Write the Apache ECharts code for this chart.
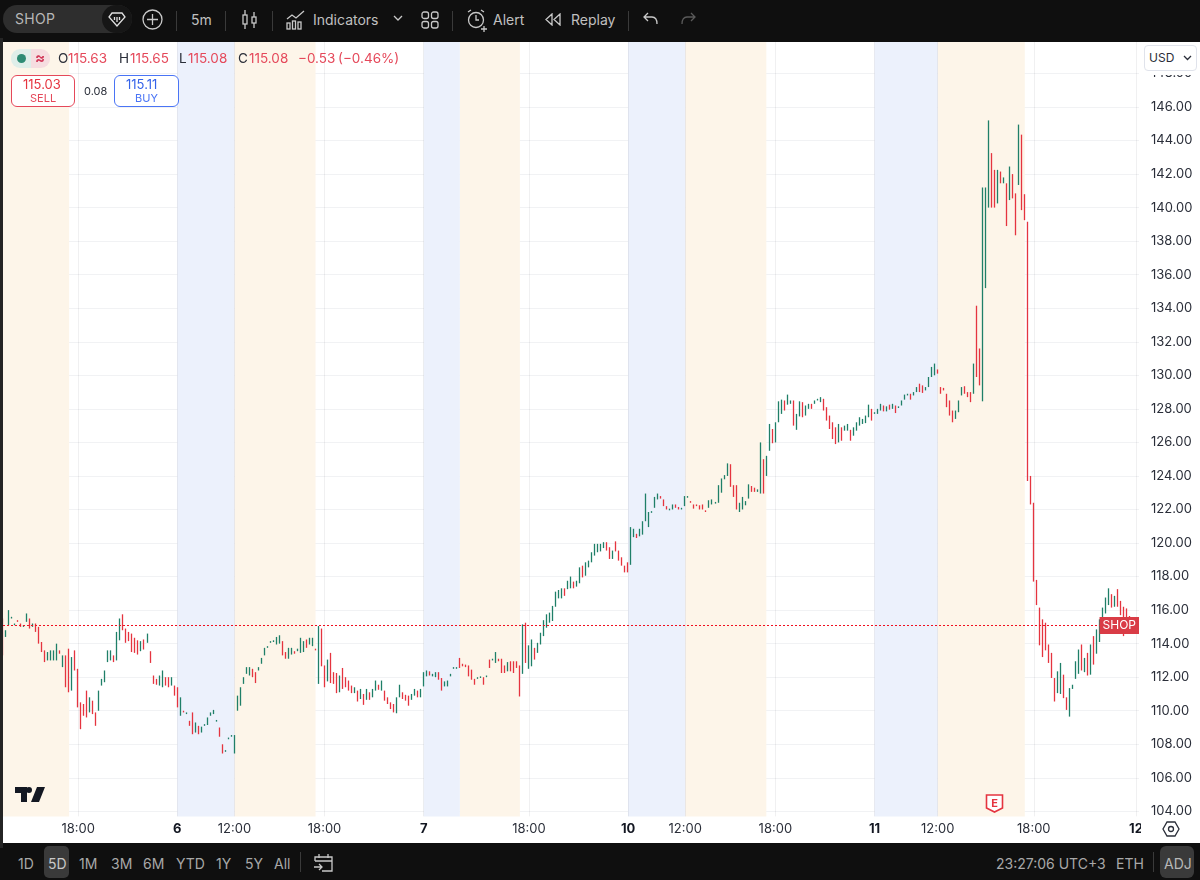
<!DOCTYPE html>
<html>
<head>
<meta charset="utf-8">
<title>SHOP 5m</title>
<script src="https://cdn.jsdelivr.net/npm/echarts@6/dist/echarts.min.js"></script>
<style>
html, body { margin: 0; padding: 0; background: #fff; font-family: Inter, "Noto Sans", sans-serif; }
#chart { position: absolute; left: 0; top: 0; width: 1200px; height: 880px; }
.bar { position: absolute; left: 0; width: 1200px; background: #0f0f0f; }
.t { position: absolute; white-space: nowrap; line-height: 1; }
.ico { position: absolute; fill: none; stroke: #c9c9c9; stroke-width: 1.3; }
</style>
</head>
<body>
<div id="chart"></div>
<div class="bar" style="top:0;height:42px"></div>
<div class="bar" style="top:843px;height:37px"></div>
<div style="position:absolute;left:0;top:38px;width:3px;height:810px;background:#242424"></div>
<div id="ui"></div>
<script>
// bars are [open, close, low, high]
var day5Bars = [
	[114.9,114.3,113.3,115.5],[114.5,114.7,114.4,114.8],[115.3,115.9,115.1,116],[115.5,115.6,115.5,115.6],[115.1,115.2,115.1,115.2],
	[115.4,115.3,115.3,115.4],[115.2,115.1,115,115.2],[115.05,115.1,115,115.1],[115.4,115.7,115.3,115.8],[115.4,114.95,114.9,115.5],
	[115,115.1,115,115.2],[115.1,114.8,114.7,115.2],[114.9,114.1,114,115],[114,113.6,113.5,114.1],[113.5,113,112.9,113.6],
	[113.1,113.3,113,113.5],[113.2,113.5,113,113.6],[113.2,113.5,113,113.6],[113.3,113.9,113,114],[113.6,113.5,113.4,113.6],
	[112.8,113.2,112.6,113.3],[113.2,112,111.4,113.3],[113.4,111.6,111.1,113.7],[111.6,113,111.2,113.2],[113.5,112.6,112.4,113.6],
	[112.4,110.4,110.2,112.5],[110.3,109.4,108.9,110.5],[110.4,109.8,109.7,110.4],[111.2,109.8,109.6,111.2],[110.2,110.6,109.9,110.8],
	[110.5,110,109.8,110.6],[109.8,109.3,109.1,109.9],[110.1,111,110,111.2],[111.6,111.8,111.5,111.9],[111.8,112.4,111.7,112.4],
	[113,113.6,112.9,113.6],[113.2,113.5,113,113.6],[113.3,113,112.9,113.3],[113.1,114.6,113,114.7],[114.4,115.5,114.2,115.5],
	[115.75,114.9,114.8,115.75],[114.9,114.1,114.05,114.9],[114.6,114.2,114.15,114.7],[114.6,113.5,113.5,114.6],[114.3,113.7,113.45,114.35],
	[113.9,113.5,113.35,114.2],[113.7,114.1,113.55,114.15],[114.15,113.8,113.65,114.25],[114.1,114.5,114.05,114.6],[113.5,113,112.85,113.55],
	[112.1,111.7,111.6,112.1],[111.9,111.6,111.55,111.9],[111.6,111.95,111.5,112.1],[111.7,112.3,111.4,112.4],[112,111.7,111.5,112],
	[112,111.6,111.4,112],[111.65,112,111.5,112],[111.4,111,110.9,111.5]
];
var day6Bars = [
	[111.35,110.3,110.2,111.4],[109.8,110.7,109.7,110.8],[110,109.95,109.9,110],[109.85,109.9,109.8,109.9],[109.4,109.15,109.1,109.4],
	[109.85,108.7,108.6,109.9],[108.8,109.3,108.7,109.3],[109,108.7,108.6,109.1],[108.8,109,108.7,109.05],[109.15,109.2,109.1,109.2],
	[109.2,109.6,109.15,109.6],[109.75,109.9,109.7,109.9],[109.85,110,109.8,110.05],[109.4,109.45,109.35,109.45],[108.95,108.5,108.45,109],
	[108,107.45,107.45,108],[107.6,107.65,107.55,107.65],[108.35,108.4,108.3,108.4],[108.5,108.55,108.45,108.55],[107.5,108.55,107.45,108.55],
	[110,110.75,110,110.9],[110.3,111.4,110.3,111.4],[111.7,112,111.6,112],[112.2,112.5,112.2,112.6],[112.15,112.55,112.1,112.6],
	[112.5,112.1,112,112.5],[112.2,111.7,111.65,112.3],[112.4,112.6,112.4,112.6],[112.85,113.1,112.8,113.15],[113.3,113.75,113.3,113.75],
	[113.8,113.85,113.75,113.85],[114.1,114.15,114.05,114.15],[114.15,114.2,114.1,114.2],[114,114.4,113.95,114.4],[114.05,114.5,114,114.5],
	[114.15,113.3,113.3,114.15],[113.35,113.2,113.1,113.5],[113.2,113.6,113.1,113.75],[113.4,113.6,113.35,113.75],[113.5,113.45,113.4,113.55],
	[113.6,113.65,113.55,113.7],[113.5,113.95,113.45,114.35],[113.55,114.1,113.5,114.15],[114.2,113.8,113.75,114.25],[114,114.35,113.95,114.35],
	[113.9,114.3,113.85,114.35],[113.7,113.65,113.6,113.7],[111.9,115.05,111.6,115.05],[114.85,113,112.65,114.9],[112.7,111.4,111.4,112.7],
	[111.8,113,111.75,113.05],[113.45,111.8,111.65,113.45],[112.27,111.7,111.6,112.3],[112.1,111.1,111.05,112.25],[111.2,112,111.1,112.1],
	[112.5,111.6,111.3,112.55],[111.9,111.5,111.4,112],[111.8,111.3,111.2,111.8],[111.4,111.1,111.05,111.5],[111.1,111.35,111.05,111.4],
	[111.1,110.6,110.55,111.2],[110.8,111.2,110.7,111.3],[111,110.4,110.35,111],[110.7,111.2,110.65,111.3],[111,110.8,110.65,111.1],
	[110.8,111.2,110.8,111.3],[111.3,111.7,111.2,111.8],[111.5,111.3,111.25,111.55],[111.3,111.75,111.2,111.8],[111.2,110.7,110.6,111.2],
	[110.8,110.5,110.4,110.8],[110.5,110.2,110.1,110.5],[110.3,110,109.9,110.4],[109.95,110.7,109.85,110.8],[110.8,111.5,110.8,111.55],
	[111.05,110.75,110.7,111.1],[110.95,110.6,110.6,110.95],[110.8,110.35,110.3,110.9],[110.7,110.95,110.65,111],[110.9,111.25,110.9,111.3],
	[111.15,110.85,110.8,111.2],[110.85,111.3,110.8,111.3]
];
var day7Bars = [
	[111.5,112.2,111.45,112.3],[112.1,112.3,112.05,112.4],[112.3,112.15,112.1,112.35],[112.1,112.2,112.05,112.2],[112.05,112.25,112,112.3],
	[112.25,111.9,111.85,112.3],[111.9,111.3,111.2,111.95],[111.5,111.7,111.45,111.75],[111.5,111.75,111.45,111.8],[112.1,112.2,112.05,112.2],
	[112.5,112.55,112.5,112.6],[112.55,112.6,112.5,112.6],[113.15,112.6,112.55,113.15],[112.75,112.7,112.65,112.8],[112.7,112.65,112.6,112.75],
	[112.7,112.1,112.05,112.7],[112.3,111.9,111.85,112.45],[111.85,111.6,111.55,111.9],[111.95,112,111.9,112],[112,112.05,111.95,112.05],
	[112,111.6,111.55,112],[112,112.1,112,112.1],[113.05,112.6,112.55,113.05],[113.05,113.1,113,113.1],[112.9,113.5,112.85,113.5],
	[113.05,113,112.95,113.1],[113.05,112.3,112.25,113.1],[112.65,112.3,112.25,112.7],[112.4,112.85,112.35,112.9],[112.85,112.4,112.35,112.95],
	[112.9,112.3,112.25,112.95],[112.9,112.6,112.55,112.95],[112.7,110.9,110.85,112.7],[112.3,115.05,112.2,115.15],[115.25,112.9,112.85,115.25],
	[112.55,113.85,112.5,113.9],[112.7,114.2,112.65,114.25],[113.7,113.05,113.05,113.75],[113.45,114.05,113.45,114.05],[114,114.65,113.95,114.65],
	[114.5,115.35,114.45,115.4],[114.95,115.7,114.95,115.75],[115.3,115.8,115.25,115.85],[115.35,116.2,115.35,116.25],[116.25,117,116.2,117.1],
	[116.8,117,116.7,117.2],[116.75,117.25,116.7,117.3],[117.25,116.9,116.85,117.3],[117.3,117.75,117.25,117.75],[117.35,117.95,117.3,118],
	[117.7,117.4,117.3,117.7],[117.45,117.7,117.4,117.75],[117.7,118.5,117.6,118.55],[118.5,118,117.95,118.65],[118.1,118.6,118.05,118.85],
	[118.6,118.9,118.55,118.95],[118.9,119.4,118.85,119.45],[119.4,119.9,119.25,119.95],[119.45,119.95,119.45,119.95],[119.55,119.9,119.5,119.95],
	[119.75,120,119.7,120.05],[120.05,119.6,119.55,120.05],[119.7,119.1,119.05,119.75],[119.1,119.5,119.05,119.55],[120.1,119.55,119.5,120.1],
	[119.55,119,118.95,119.55],[119.1,118.7,118.65,119.15],[118.65,118.3,118.25,118.65]
];
var day10Bars = [
	[118.8,118.3,118.25,118.85],[118.75,120.95,118.7,120.95],[120.35,120.85,120.35,120.85],[120.5,120.35,120.3,120.55],[120.45,120.8,120.4,120.85],
	[120.5,121.3,120.5,121.3],[121.3,122.9,121.3,122.95],[121,121.8,120.95,121.85],[121.85,121.9,121.8,121.9],[122.15,122.7,122.1,122.75],
	[122.65,122.9,122.6,122.95],[122.75,122.7,122.65,122.8],[122.55,122.25,122.2,122.6],[122.2,122,122,122.2],[122,122.05,121.95,122.05],
	[122,122.3,122,122.3],[122.25,122.1,122.1,122.3],[122.15,122,122,122.15],[122.05,122.1,122,122.1],[122.2,122.7,122.2,122.8],
	[122.75,122.8,122.7,122.8],[122.5,122.45,122.4,122.5],[122.25,122.05,122.05,122.3],[122.3,122.25,122.2,122.3],[122.2,122,122,122.25],
	[122.3,122,122,122.3],[121.95,121.9,121.85,121.95],[122.1,122.5,122.1,122.55],[122.3,122.55,122.3,122.6],[122.4,122.45,122.35,122.45],
	[122.45,123.4,122.4,123.45],[123.1,123.75,123,123.85],[123.8,124.05,123.8,124.05],[124.05,124.7,124,124.75],[124.7,123.35,123.35,124.7],
	[123.4,122.75,122.75,123.45],[123.4,122,122,123.45],[121.85,122.35,121.85,122.4],[122.05,122.7,122,122.75],[122.25,122.5,122.25,122.5],
	[122.65,123.45,122.65,123.5],[123.35,123.05,123.05,123.4],[123.3,123.05,123.05,123.3],[123.1,123.2,123.05,123.2],[122.95,126,122.95,126],
	[125,122.95,122.95,125],[124,125.2,124,125.2],[125.5,127.1,125.5,127.1],[126.75,125.95,125.95,126.8],[126,127.2,126,127.2],
	[127.2,128.45,127.2,128.45],[127.7,128.5,127.7,128.55],[128.45,127.9,127.9,128.5],[128.25,128.85,128.25,128.85],[128.35,128.5,128.3,128.5],
	[128.5,127,127,128.5],[126.75,127.7,126.75,127.7],[127.55,128.45,127.55,128.45],[128.4,127.5,127.5,128.4],[127.6,128.2,127.6,128.2],
	[128,128.3,128,128.3],[128.3,128,128,128.3],[128.3,128.5,128.3,128.5],[128.5,128.6,128.5,128.6],[128.4,128.7,128.4,128.7],
	[128.6,127.9,127.9,128.6],[128.1,127.3,127.3,128.1],[127.6,126.8,126.8,127.6],[127.2,126.2,126.2,127.2],[126.9,125.9,125.9,126.9],
	[126,127.1,126,127.1],[126.8,126.1,126.1,126.9],[126.7,127,126.7,127],[126.7,127.1,126.7,127.1],[126.7,126.1,126.1,126.75],
	[126.4,126.9,126.4,126.9],[126.7,127.2,126.7,127.2],[127.2,127.5,127,127.5],[127.15,127.4,127.1,127.4],[127.15,127.6,127.15,127.6],
	[127.5,128.25,127.5,128.25],[128,127.3,127.3,128]
];
var day11Bars = [
	[127.7,127.8,127.7,127.8],[127.7,128,127.7,128],[127.9,128.3,127.9,128.3],[128.1,127.85,127.85,128.2],[127.85,128.1,127.85,128.15],
	[128.2,127.95,127.95,128.25],[128,128.25,128,128.3],[128.2,127.75,127.75,128.2],[128.1,128.15,128.05,128.15],[128.2,128.5,128.2,128.5],
	[128.55,128.85,128.55,128.85],[128.85,128.9,128.8,128.9],[128.9,128.55,128.55,128.9],[128.8,129,128.8,129],[129,129.3,129,129.3],
	[129.5,129,129,129.5],[129.4,129,128.95,129.4],[129.15,129.3,129.1,129.3],[129.3,129.9,129.3,129.9],[129.9,130.5,129.9,130.5],
	[130.1,130.7,130,130.7],[130.3,130.15,130.1,130.35],[129.25,128.9,128.9,129.3],[129.2,129.15,129.1,129.25],[128.9,128.1,128.1,128.9],
	[128.5,127.8,127.6,128.5],[127.9,127.4,127.2,127.9],[127.5,127.9,127.4,127.9],[127.8,128.5,127.8,128.5],[128.85,129.3,128.8,129.3],
	[129.3,128.9,128.9,129.35],[128.95,128.75,128.7,129],[129,128.4,128.4,129],[128.9,130.7,128.9,130.7],[134.1,130,129.9,134.15],
	[131.6,129.4,129.4,131.6],[128.5,141.15,128.45,141.2],[135.2,141.15,135.2,141.2],[140.05,141.2,140,145.2],[141.3,140.1,140,143.25],
	[142.2,140.1,140,142.25],[140.3,141.8,140.25,142.25],[142.1,141.5,141.45,142.15],[141.5,141.75,141.45,141.8],[141.45,139,138.9,141.45],
	[140.5,142.4,140.45,142.45],[141.95,140.6,140.55,142],[140.85,138.4,138.35,140.85],[141.4,144.95,141.35,144.95],[144.35,139.9,139.85,144.35],
	[140.75,139.25,139.25,140.8],[139.1,123.95,123.7,139.15],[123.95,122.3,122.3,124],[122.4,117.7,117.7,122.4],[117.8,116.3,116.3,117.8],
	[116.1,113.95,113.9,116.15],[115.4,113.25,113.2,115.45],[115.2,113.65,113.6,115.25],[113.9,112.85,112.85,113.95],[113.4,111.95,111.95,113.45],
	[111.95,110.55,110.55,111.95],[111.05,112.3,111.05,112.35],[111,112.85,111,112.85],[112.15,110.75,110.75,112.15],[110.75,110.05,110.05,110.8],
	[109.65,111.35,109.65,111.35],[111.35,111.55,111.3,111.55],[111.95,112.9,111.9,112.95],[112.25,113.6,112.2,113.65],[113.9,112.45,112.4,113.95],
	[112.35,113.1,112.3,113.15],[113.4,112.15,112.1,113.45],[112.15,113.9,112.15,113.95],[114.4,112.75,112.75,114.45],[113.45,114.8,113.4,114.85],
	[114.15,115.4,114.1,115.45],[115.4,116.1,115.4,116.15],[115.85,116.7,115.8,116.75],[116.3,117.25,116.3,117.3],[116.9,116.2,116.15,116.95],
	[116.25,116.8,116.2,116.85],[117.2,116.2,116.2,117.25],[116.5,115.7,115.7,116.55],[115.75,114.6,114.45,116.2],[115.95,115.35,115.3,116.1],
	[115.63,115.08,115.08,115.65]
];
var timeLabels = ['18:00','6','12:00','18:00','7','18:00','10','12:00','18:00','11','12:00','18:00','12'];
var timeIndex = [25,58,77,107,140,175,208,227,257,290,311,343,377];
var boldLabels = ['6','7','10','11','12'];
var preMarket = [[58,77],[140,152],[208,227],[290,311]];
var afterHours = [[0,22],[77,104],[152,172],[227,254],[311,340]];
var lastPrice = 115.08;
var slotCount = 379;

var bars = day5Bars.concat(day6Bars, day7Bars, day10Bars, day11Bars);
var categories = [];
for (var i = 0; i < slotCount; i++) categories.push(String(i));

function bandData(list, color) {
	return list.map(function(b) {
		return [{ xAxis: b[0], yAxis: 103.7, itemStyle: { color: color } }, { xAxis: b[1], yAxis: 150 }];
	});
}

var chart = echarts.init(document.getElementById('chart'), null, { renderer: 'canvas' });
chart.setOption({
	animation: false,
	backgroundColor: '#fff',
	textStyle: { fontFamily: 'Inter' },
	grid: { left: 3, right: 61, top: 39.9, bottom: 35.1 },
	xAxis: {
		type: 'category',
		data: categories,
		boundaryGap: false,
		axisLine: { show: false },
		axisTick: { show: false },
		splitLine: { show: false },
		axisLabel: {
			inside: true,
			margin: 9,
			color: '#2a2e39',
			fontSize: 13,
			fontFamily: 'Inter',
			interval: function(index) { return timeIndex.indexOf(index) >= 0; },
			formatter: function(value, index) {
				var label = timeLabels[timeIndex.indexOf(index)];
				return boldLabels.indexOf(label) >= 0 ? '{b|' + label + '}' : label;
			},
			rich: { b: { fontWeight: 'bold', fontSize: 13, color: '#131722', fontFamily: 'Inter' } }
		}
	},
	yAxis: {
		type: 'value',
		position: 'right',
		min: 102,
		max: 150,
		interval: 2,
		scale: true,
		axisLine: { show: false },
		axisTick: { show: false },
		splitLine: { lineStyle: { color: '#f1f2f4', width: 1 } },
		axisLabel: {
			color: '#2a2e39',
			fontSize: 13,
			fontFamily: 'Inter',
			margin: 12,
			showMinLabel: false,
			showMaxLabel: false,
			formatter: function(v) { return v.toFixed(2); }
		}
	},
	series: [
		{
			type: 'line',
			data: [],
			silent: true,
			z: 0,
			markArea: {
				silent: true,
				z: 0,
				data: bandData(afterHours, '#fdf5e9').concat(bandData(preMarket, '#ecf1fc'))
			},
			markLine: {
				silent: true,
				symbol: 'none',
				z: 1,
				label: { show: false },
				lineStyle: { type: 'solid', color: 'rgba(42,46,57,0.07)', width: 1 },
				data: timeIndex.map(function(idx) {
					return [{ xAxis: idx, yAxis: 103.7 }, { xAxis: idx, yAxis: 150 }];
				})
			}
		},
		{
			type: 'candlestick',
			data: bars,
			barWidth: 1,
			z: 3,
			itemStyle: {
				color: '#1f7f68',
				color0: '#e5343f',
				borderColor: '#1f7f68',
				borderColor0: '#e5343f',
				borderWidth: 1.3
			}
		},
		{
			type: 'line',
			data: [],
			silent: true,
			z: 5,
			itemStyle: { color: '#e5343f' },
			lineStyle: { color: '#e5343f' },
			markLine: {
				silent: true,
				symbol: 'none',
				z: 5,
				data: [{
					yAxis: lastPrice,
					lineStyle: { type: [2, 2], color: '#f01020', width: 1, opacity: 1 },
					label: {
						show: true,
						position: 'insideEnd',
						distance: 0,
						formatter: 'SHOP',
						color: '#fff',
						fontSize: 12,
						fontFamily: 'Inter',
						backgroundColor: '#d93c46',
						padding: [3, 3, 2, 3]
					}
				}]
			}
		}
	]
});

// toolbars and header widgets
var ui = document.getElementById('ui');
function text(str, x, y, size, color, extra) {
	var el = document.createElement('div');
	el.className = 't';
	el.textContent = str;
	el.style.cssText = 'left:' + x + 'px;top:' + y + 'px;font-size:' + size + 'px;color:' + color + ';' + (extra || '');
	ui.appendChild(el);
	return el;
}
function rect(x, y, w, h, css) {
	var el = document.createElement('div');
	el.style.cssText = 'position:absolute;box-sizing:border-box;left:' + x + 'px;top:' + y + 'px;width:' + w + 'px;height:' + h + 'px;' + css;
	ui.appendChild(el);
	return el;
}
function sep(x, y, h) {
	return rect(x, y, 1, h, 'background:#3a3a3a');
}
function icon(x, y, w, h, body, css) {
	var holder = document.createElement('div');
	holder.innerHTML = '<svg class="ico" style="left:' + x + 'px;top:' + y + 'px;' + (css || '') + '" width="' + w + '" height="' + h + '" viewBox="0 0 ' + w + ' ' + h + '">' + body + '</svg>';
	ui.appendChild(holder.firstChild);
}

// top bar
rect(3, 5, 129, 28, 'background:#2e2e2e;border-radius:14px');
rect(102, 5, 30, 28, 'background:#161616;border-radius:14px');
text('SHOP', 15, 12, 14, '#b8b8b8', 'letter-spacing:.3px');
icon(108, 11, 18, 16, '<path d="M4 2h10l3 4-8 9-8-9z"/><path d="M6.5 6v3M9 6v5M11.5 6v3"/>', 'stroke:#e0e0e0');
icon(142, 9, 21, 21, '<circle cx="10.5" cy="10.5" r="9.5"/><path d="M10.5 5v11M5 10.5h11"/>');
sep(176, 11, 20);
text('5m', 191, 13, 14, '#c0c0c0');
sep(225, 11, 20);
icon(241, 9, 17, 21, '<rect x="2" y="6" width="4" height="9"/><path d="M4 1v5M4 15v5"/><rect x="11" y="8" width="4" height="6"/><path d="M13 3v5M13 14v5"/>');
sep(272, 11, 20);
icon(286, 9, 20, 21, '<path d="M1 10l5-4 4 3 8-7"/><rect x="1" y="14" width="3" height="6"/><rect x="6.5" y="12" width="3" height="8"/><rect x="12" y="13" width="3" height="7"/>');
text('Indicators', 313, 13, 14, '#c0c0c0');
icon(393, 15, 10, 7, '<path d="M1 1l4 4 4-4"/>');
icon(421, 11, 18, 18, '<rect x="1" y="1" width="6.5" height="6.5" rx="2"/><rect x="10.5" y="1" width="6.5" height="6.5" rx="2"/><rect x="1" y="10.5" width="6.5" height="6.5" rx="2"/><rect x="10.5" y="10.5" width="6.5" height="6.5" rx="2"/>');
sep(452, 11, 20);
icon(466, 9, 21, 23, '<circle cx="10" cy="11" r="7.5"/><path d="M10 6v5h3M2 3l3-2M18 3l-3-2M15 20h6M18 17v6"/>');
text('Alert', 493, 13, 14, '#c0c0c0');
icon(545, 13, 16, 13, '<path d="M7 1L1 6.5 7 12zM15 1L9 6.5 15 12z"/>');
text('Replay', 571, 13, 14, '#c0c0c0');
sep(628, 11, 20);
icon(643, 12, 16, 14, '<path d="M5 1L1 5l4 4M1 5h8c3 0 5 2 5 7"/>');
icon(680, 12, 16, 14, '<path d="M11 1l4 4-4 4M15 5H7c-3 0-5 2-5 7"/>', 'stroke:#5a5a5a');

// bottom bar
rect(44, 846, 25, 32, 'background:#3a3a3a;border-radius:5px');
var ranges = ['1D','5D','1M','3M','6M','YTD','1Y','5Y','All'];
var rangeX = [18,48,79,111,143,176,216,245,274];
ranges.forEach(function(r, k) { text(r, rangeX[k], 857, 14, r === '5D' ? '#c8c8c8' : '#a8a8a8'); });
sep(300, 852, 20);
icon(313, 853, 21, 19, '<path d="M2 8V4h17v14H9M2 8h17M6 1v4M15 1v4M1 14h8M6 11l3 3-3 3"/>');
text('23:27:06 UTC+3', 996, 857, 14, '#a8a8a8');
text('ETH', 1116, 857, 14, '#a8a8a8');
sep(1153, 852, 20);
rect(1160, 846, 34, 32, 'background:#3a3a3a;border-radius:6px');
text('ADJ', 1164, 857, 14, '#b8b8b8');

// legend row
rect(11, 49, 20, 19, 'background:#dfeee9;border-radius:9px 0 0 9px');
rect(31, 49, 19, 19, 'background:#f6dde0;border-radius:0 9px 9px 0');
rect(17, 54, 9, 9, 'background:#2e8b74;border-radius:50%');
text('≈', 35, 50, 15, '#d23a5a', 'font-weight:bold');
var red = '#e5485a';
var legend = [['O',58,'#2a2e39'],['115.63',68,red],['H',119,'#2a2e39'],['115.65',130,red],['L',179,'#2a2e39'],['115.08',188,red],['C',238,'#2a2e39'],['115.08',249,red],['−0.53',298,red],['(−0.46%)',338,red]];
legend.forEach(function(l) { text(l[0], l[1], 52, 13.5, l[2]); });

// sell / buy
rect(11, 75, 64, 32, 'background:#fff;border:1px solid #e5485a;border-radius:6px');
text('115.03', 23, 78, 13, '#e5343f');
text('SELL', 30, 93, 11, '#e5485a');
text('0.08', 84, 86, 11, '#2a2e39');
rect(114, 75, 65, 32, 'background:#fff;border:1px solid #4a74f5;border-radius:6px');
text('115.11', 126, 78, 13, '#3563e9');
text('BUY', 135, 93, 11, '#4a74f5');

// currency box, settings, axis corner
rect(1140, 42, 60, 33, 'background:#fff');
rect(1144, 45, 53, 26, 'background:#fff;border:1px solid #e0e3eb;border-radius:4px');
text('USD', 1149, 52, 12, '#2a2e39');
icon(1183, 55, 9, 6, '<path d="M1 1l3.5 3.5L8 1"/>', 'stroke:#2a2e39');
rect(1141, 818, 59, 25, 'background:#fff');
icon(1162, 820, 18, 18, '<path d="M5 2h8l4 7-4 7H5L1 9z"/><circle cx="9" cy="9" r="2.5"/>', 'stroke:#2a2e39');

// logo and earnings flag
var logo = document.createElement('div');
logo.innerHTML = '<svg style="position:absolute;left:15px;top:787px" width="30" height="15" viewBox="0 0 30 15"><path fill="#131722" d="M0 0h12v15H6V6H0zM14 0a3 3 0 1 1 0 6 3 3 0 0 1 0-6zM22 0h8l-6 15h-8z"/></svg>';
ui.appendChild(logo.firstChild);
var flag = document.createElement('div');
flag.innerHTML = '<svg style="position:absolute;left:985px;top:793px" width="19" height="21" viewBox="0 0 19 21"><path fill="#fff" stroke="#e5343f" stroke-width="1.6" d="M1.5 2h16v13l-8 4-8-4z"/><text x="9.5" y="14" font-size="11" font-family="Inter" font-weight="bold" text-anchor="middle" fill="#e5343f">E</text></svg>';
ui.appendChild(flag.firstChild);
</script>
</body>
</html>
